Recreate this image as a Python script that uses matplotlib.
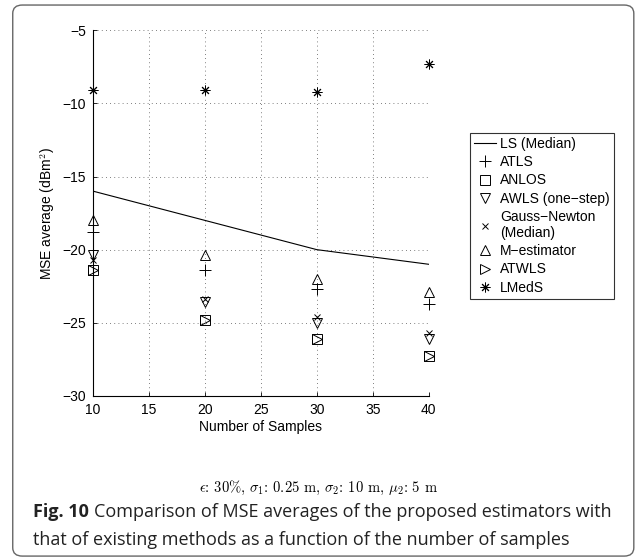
import matplotlib.pyplot as plt
from matplotlib.patches import FancyBboxPatch

plt.rcParams['font.family'] = ['Liberation Sans', 'DejaVu Sans']
plt.rcParams['mathtext.fontset'] = 'cm'

samples = [10, 20, 30, 40]
ls_median = [-16.0, -18.0, -20.0, -21.0]
atls = [-18.8, -21.4, -22.7, -23.7]
anlos = [-21.4, -24.8, -26.1, -27.3]
awls = [-20.4, -23.6, -25.0, -26.1]
gauss_newton = [-20.7, -23.4, -24.6, -25.7]
m_estimator = [-18.0, -20.4, -22.0, -22.9]
atwls = [-21.4, -24.8, -26.1, -27.3]
lmeds = [-9.1, -9.1, -9.2, -7.3]

fig = plt.figure(figsize=(6.37, 5.6), dpi=100)
ax = fig.add_axes([0.146, 0.293, 0.527, 0.653])

ax.plot(samples, ls_median, '-', color='black', lw=0.8, label='LS (Median)')
mk = dict(linestyle='none', color='black', markerfacecolor='none',
          markeredgewidth=0.7, clip_on=False)
ax.plot(samples, atls, marker='+', markersize=9, label='ATLS', **mk)
ax.plot(samples, anlos, marker='s', markersize=6.5, label='ANLOS', **mk)
ax.plot(samples, awls, marker='v', markersize=7.5, label='AWLS (one\u2212step)', **mk)
ax.plot(samples, gauss_newton, marker='x', markersize=5, label='Gauss\u2212Newton\n(Median)', **mk)
ax.plot(samples, m_estimator, marker='^', markersize=7.5, label='M\u2212estimator', **mk)
ax.plot(samples, atwls, marker='>', markersize=7.5, label='ATWLS', **mk)
ax.plot(samples, lmeds, marker=(8, 2, 0), markersize=7, label='LMedS', **mk)

ax.set_xlim(10, 40)
ax.set_ylim(-30, -5)
ax.set_xticks(range(10, 41, 5))
ax.set_yticks(range(-30, -4, 5))
ax.set_yticklabels(['\u2212%d' % abs(v) for v in range(-30, -4, 5)])
ax.grid(True, linestyle=(0, (1, 4)), color='#555555', lw=0.6)
for s in ['top', 'right']:
    ax.spines[s].set_visible(False)
for s in ['left', 'bottom']:
    ax.spines[s].set_linewidth(0.8)
ax.tick_params(direction='in', length=3, labelsize=10, width=0.6, pad=5)
ax.set_xlabel('Number of Samples', fontsize=10, labelpad=2)
ax.set_ylabel('MSE average (dBm$^2$)', fontsize=10)
ax.yaxis.set_label_coords(-0.107, 0.5)

leg = ax.legend(loc='upper left', bbox_to_anchor=(1.122, 0.719), fontsize=10,
                frameon=True, fancybox=False, edgecolor='black', handlelength=1.6,
                handletextpad=0.3, borderpad=0.3, labelspacing=0.3, borderaxespad=0)
leg.get_frame().set_linewidth(0.8)

fig.text(0.5, 0.128, r'$\epsilon$: 30%, $\sigma_1$: 0.25 m, $\sigma_2$: 10 m, $\mu_2$: 5 m',
         ha='center', va='center', fontsize=10.5, family='cmr10')

cap_font = ['Open Sans', 'DejaVu Sans']
fig.canvas.draw()
renderer = fig.canvas.get_renderer()
bold = fig.text(0.052, 0.086, 'Fig. 10', fontsize=13, va='center', family=cap_font,
                weight='bold', color='#222222')
bb = bold.get_window_extent(renderer)
x_after = (bb.x1 + 5) / fig.bbox.width
fig.text(x_after, 0.086, 'Comparison of MSE averages of the proposed estimators with',
         fontsize=13, va='center', family=cap_font, color='#222222')
fig.text(0.052, 0.036, 'that of existing methods as a function of the number of samples',
         fontsize=13, va='center', family=cap_font, color='#222222')

frame = FancyBboxPatch((0.020, 0.007), 0.975, 0.984, boxstyle='round,pad=0,rounding_size=0.015',
                       transform=fig.transFigure, fill=False, edgecolor='#666666', lw=1.0)
fig.patches.append(frame)

fig.savefig('out.png', dpi=100)
